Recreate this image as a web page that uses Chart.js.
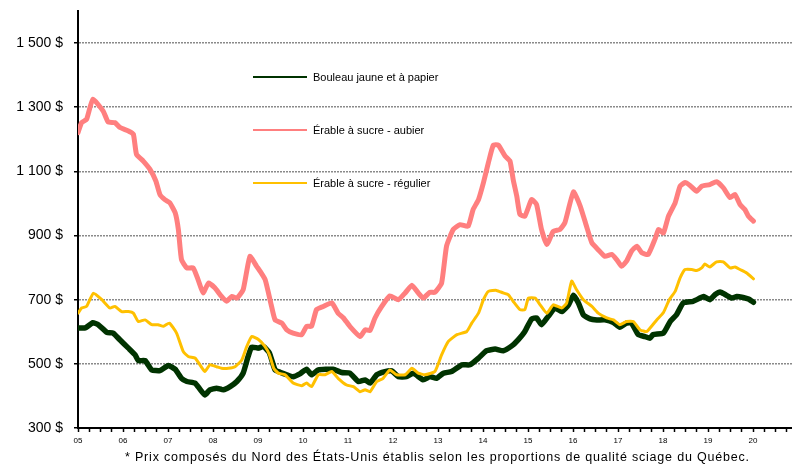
<!DOCTYPE html>
<html>
<head>
<meta charset="utf-8">
<script src="https://cdn.jsdelivr.net/npm/chart.js@4/dist/chart.umd.min.js"></script>
<style>
  body { margin: 0; background: #fff; }
  #wrap { position: relative; width: 792px; height: 465px; font-family: "Liberation Sans", Arial, sans-serif; }
  .leg { position: absolute; left: 253px; height: 14px; font-size: 11px; line-height: 14px; color: #000; white-space: nowrap; }
  .leg i { position: absolute; left: 0; top: 6px; width: 54px; height: 2px; }
  .leg span { position: absolute; left: 60px; top: 0; }
  #note { position: absolute; left: 125px; top: 450px; font-size: 12.5px; line-height: 15px; white-space: nowrap; color: #000; }
</style>
</head>
<body>
<div id="wrap">
  <canvas id="chart" width="792" height="465"></canvas>
  <div class="leg" style="top:70px"><i style="background:#003300"></i><span>Bouleau jaune et à papier</span></div>
  <div class="leg" style="top:123px"><i style="background:#ff7f7f"></i><span>Érable à sucre - aubier</span></div>
  <div class="leg" style="top:176px"><i style="background:#ffc000"></i><span>Érable à sucre - régulier</span></div>
  <div id="note">* Prix composés du Nord des États-Unis établis selon les proportions de qualité sciage du Québec.</div>
</div>
<script>
// dates are decimal years (2005.5 = mid-2005), prices in $
const aubierX = [2005.00, 2005.08, 2005.19, 2005.33, 2005.56, 2005.67, 2005.82, 2005.93, 2006.12, 2006.23,
  2006.30, 2006.45, 2006.60, 2006.73, 2006.82, 2006.93, 2007.04, 2007.16, 2007.23, 2007.30,
  2007.42, 2007.56, 2007.67, 2007.78, 2007.90, 2008.04, 2008.19, 2008.30, 2008.42, 2008.53,
  2008.67, 2008.82, 2008.97, 2009.04, 2009.16, 2009.30, 2009.38, 2009.53, 2009.64, 2009.78,
  2009.97, 2010.08, 2010.19, 2010.30, 2010.45, 2010.64, 2010.78, 2010.90, 2011.04, 2011.27,
  2011.38, 2011.49, 2011.60, 2011.75, 2011.93, 2012.12, 2012.27, 2012.42, 2012.56, 2012.67,
  2012.82, 2012.93, 2013.08, 2013.19, 2013.34, 2013.49, 2013.67, 2013.78, 2013.90, 2014.01,
  2014.12, 2014.23, 2014.34, 2014.49, 2014.60, 2014.67, 2014.75, 2014.82, 2014.93, 2015.08,
  2015.19, 2015.30, 2015.42, 2015.56, 2015.71, 2015.82, 2016.01, 2016.16, 2016.30, 2016.42,
  2016.56, 2016.71, 2016.86, 2016.97, 2017.08, 2017.19, 2017.30, 2017.42, 2017.53, 2017.67,
  2017.82, 2017.90, 2018.01, 2018.12, 2018.27, 2018.38, 2018.49, 2018.60, 2018.75, 2018.86,
  2019.04, 2019.19, 2019.34, 2019.49, 2019.60, 2019.71, 2019.82, 2019.90, 2020.01];
const aubierY = [1221, 1252, 1262, 1325, 1288, 1254, 1252, 1237, 1226, 1216,
  1153, 1132, 1106, 1070, 1028, 1012, 1002, 971, 919, 825,
  799, 799, 762, 721, 752, 737, 710, 695, 710, 705,
  731, 835, 804, 790, 762, 680, 637, 627, 606, 596,
  591, 617, 617, 669, 679, 690, 658, 643, 617, 585,
  606, 604, 643, 679, 712, 700, 721, 745, 721, 705,
  723, 723, 752, 867, 919, 934, 929, 981, 1012, 1065,
  1127, 1182, 1182, 1148, 1132, 1075, 1023, 966, 960, 1012,
  997, 919, 872, 913, 919, 940, 1036, 992, 929, 877,
  856, 835, 841, 825, 804, 820, 851, 867, 846, 841,
  888, 919, 908, 960, 1002, 1054, 1065, 1056, 1038, 1054,
  1059, 1068, 1049, 1018, 1028, 997, 981, 960, 945];

const regulierX = [2005.00, 2005.08, 2005.19, 2005.34, 2005.53, 2005.71, 2005.82, 2005.97, 2006.12, 2006.23,
  2006.34, 2006.49, 2006.64, 2006.78, 2006.90, 2007.03, 2007.19, 2007.34, 2007.45, 2007.60,
  2007.71, 2007.82, 2007.93, 2008.08, 2008.19, 2008.34, 2008.49, 2008.64, 2008.75, 2008.86,
  2009.01, 2009.15, 2009.25, 2009.35, 2009.45, 2009.60, 2009.78, 2009.97, 2010.08, 2010.19,
  2010.34, 2010.49, 2010.64, 2010.78, 2010.97, 2011.12, 2011.27, 2011.38, 2011.49, 2011.64,
  2011.78, 2011.93, 2012.08, 2012.27, 2012.42, 2012.56, 2012.71, 2012.93, 2013.08, 2013.23,
  2013.42, 2013.64, 2013.75, 2013.90, 2014.01, 2014.12, 2014.30, 2014.45, 2014.56, 2014.67,
  2014.82, 2014.93, 2015.01, 2015.16, 2015.27, 2015.42, 2015.56, 2015.75, 2015.86, 2015.97,
  2016.08, 2016.23, 2016.42, 2016.56, 2016.75, 2016.90, 2017.04, 2017.19, 2017.34, 2017.49,
  2017.64, 2017.86, 2018.01, 2018.14, 2018.27, 2018.38, 2018.49, 2018.64, 2018.75, 2018.86,
  2018.93, 2019.04, 2019.19, 2019.34, 2019.49, 2019.60, 2019.71, 2019.86, 2020.01];
const regulierY = [658, 674, 679, 720, 700, 674, 679, 663, 663, 658,
  632, 637, 622, 622, 617, 627, 596, 538, 523, 518,
  497, 476, 497, 491, 486, 486, 491, 512, 554, 585,
  576, 555, 530, 486, 471, 466, 440, 432, 440, 429,
  466, 466, 476, 455, 434, 429, 413, 419, 413, 445,
  455, 481, 466, 466, 486, 471, 466, 476, 528, 570,
  591, 601, 627, 658, 700, 726, 729, 721, 716, 695,
  669, 669, 705, 705, 684, 658, 684, 674, 690, 758,
  731, 700, 679, 658, 643, 637, 622, 632, 632, 606,
  601, 637, 660, 700, 726, 768, 794, 794, 791, 799,
  811, 802, 818, 818, 799, 802, 794, 783, 765];

const bouleauX = [2005.00, 2005.16, 2005.33, 2005.45, 2005.64, 2005.78, 2005.93, 2006.12, 2006.27, 2006.34,
  2006.49, 2006.64, 2006.82, 2007.01, 2007.16, 2007.30, 2007.42, 2007.60, 2007.71, 2007.82,
  2007.93, 2008.08, 2008.23, 2008.38, 2008.53, 2008.67, 2008.78, 2008.86, 2009.01, 2009.12,
  2009.25, 2009.38, 2009.49, 2009.64, 2009.78, 2009.93, 2010.08, 2010.19, 2010.34, 2010.67,
  2010.86, 2011.04, 2011.23, 2011.38, 2011.49, 2011.64, 2011.82, 2011.97, 2012.12, 2012.30,
  2012.45, 2012.67, 2012.82, 2012.97, 2013.12, 2013.30, 2013.53, 2013.71, 2013.90, 2014.08,
  2014.27, 2014.45, 2014.64, 2014.78, 2014.93, 2015.08, 2015.19, 2015.30, 2015.45, 2015.60,
  2015.75, 2015.90, 2016.01, 2016.12, 2016.23, 2016.38, 2016.53, 2016.71, 2016.90, 2017.04,
  2017.19, 2017.30, 2017.45, 2017.60, 2017.71, 2017.78, 2018.01, 2018.16, 2018.30, 2018.45,
  2018.67, 2018.82, 2018.90, 2019.04, 2019.16, 2019.27, 2019.38, 2019.53, 2019.64, 2019.78,
  2019.90, 2020.01];
const bouleauY = [612, 612, 628, 622, 598, 596, 575, 549, 528, 510,
  510, 481, 479, 495, 483, 455, 445, 440, 421, 403,
  419, 424, 419, 429, 445, 471, 523, 552, 549, 554,
  535, 481, 474, 466, 460, 469, 483, 466, 481, 483,
  473, 471, 445, 450, 440, 466, 476, 478, 460, 460,
  471, 450, 460, 455, 471, 476, 497, 497, 518, 541,
  546, 541, 556, 575, 601, 640, 643, 622, 648, 674,
  663, 684, 714, 690, 653, 640, 637, 637, 629, 614,
  627, 627, 591, 585, 580, 591, 596, 632, 653, 690,
  695, 705, 710, 700, 716, 724, 716, 705, 710, 707,
  702, 692];

const yTicks = [300, 500, 700, 900, 1100, 1300, 1500];
const xTickLabels = ['05', '06', '07', '08', '09', '10', '11', '12', '13', '14', '15', '16', '17', '18', '19', '20'];

const pts = (xs, ys) => xs.map((x, i) => ({ x: x, y: ys[i] }));

Chart.defaults.font.family = '"Liberation Sans", Arial, sans-serif';
Chart.defaults.color = '#000';

new Chart(document.getElementById('chart'), {
  type: 'line',
  data: {
    datasets: [
      { label: 'Érable à sucre - aubier', data: pts(aubierX, aubierY), borderColor: '#ff7f7f', borderWidth: 5 },
      { label: 'Érable à sucre - régulier', data: pts(regulierX, regulierY), borderColor: '#ffc000', borderWidth: 3 },
      { label: 'Bouleau jaune et à papier', data: pts(bouleauX, bouleauY), borderColor: '#003300', borderWidth: 5.5 }
    ]
  },
  options: {
    responsive: false,
    devicePixelRatio: 1,
    animation: false,
    layout: { padding: { top: 11, left: 0, right: 0, bottom: 0 } },
    elements: {
      point: { radius: 0 },
      line: { tension: 0.15, borderJoinStyle: 'round', borderCapStyle: 'round' }
    },
    plugins: { legend: { display: false }, tooltip: { enabled: false } },
    scales: {
      x: {
        type: 'linear',
        min: 2005,
        max: 2005 + 714 / 45,
        afterBuildTicks: axis => {
          const t = [];
          xTickLabels.forEach((lab, i) => { for (let q = 0; q < 4; q++) t.push({ value: 2005 + i + q / 4 }); });
          axis.ticks = t;
        },
        afterFit: s => { s.height = 37; s.paddingLeft = 0; s.paddingRight = 0; },
        grid: { drawOnChartArea: false, tickLength: 4, tickColor: '#000', tickWidth: 1.5 },
        border: { color: '#000', width: 2 },
        ticks: {
          autoSkip: false,
          maxRotation: 0,
          padding: 4,
          font: { size: 8 },
          callback: v => Number.isInteger(v) ? xTickLabels[v - 2005] : ''
        }
      },
      y: {
        min: 300,
        max: 1600,
        afterBuildTicks: axis => { axis.ticks = yTicks.map(v => ({ value: v })); },
        afterFit: s => { s.width = 78; s.paddingTop = 0; s.paddingBottom = 0; },
        grid: { color: '#8a8a8a', lineWidth: 1.5, tickLength: 4, tickColor: '#000', tickWidth: 1.5, tickBorderDash: [] },
        border: { color: '#000', width: 2, dash: [2, 1] },
        ticks: {
          padding: 11,
          font: { size: 14 },
          callback: v => String(v).replace(/\B(?=(\d{3})+$)/, ' ') + ' $'
        }
      }
    }
  }
});

// stretch the footnote to the width it has in the original layout
const note = document.getElementById('note');
const n = note.textContent.length;
note.style.letterSpacing = ((625 - note.offsetWidth) / n) + 'px';
</script>
</body>
</html>
